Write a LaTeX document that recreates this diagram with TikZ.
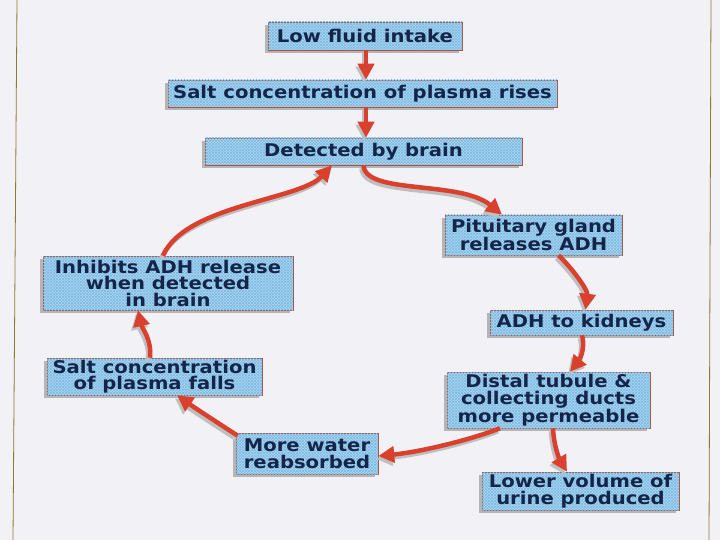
\documentclass[tikz,border=0pt]{standalone}
\usepackage{fontspec}
\setmainfont{DejaVu Sans}[FakeStretch=1.12]
\usetikzlibrary{arrows.meta,calc,shadows,patterns}
\definecolor{bg}{HTML}{F2F1F6}
\definecolor{boxblue}{HTML}{ACD7F0}
\definecolor{hatch}{HTML}{7FBBE3}
\definecolor{boxline}{HTML}{B0503F}
\definecolor{navy}{HTML}{15254A}
\definecolor{arrowred}{HTML}{D9412E}
\definecolor{pageedge}{HTML}{8C7A2E}
\tikzset{
  box/.style={draw=boxline, line width=0.6pt, fill=boxblue, inner sep=0pt,
    text=navy, align=center,
    font=\bfseries\fontsize{17.5}{16.5}\selectfont,
    drop shadow={shadow xshift=-3pt, shadow yshift=-3pt, fill=black!35, opacity=0.8},
    postaction={pattern=north east lines, pattern color=hatch},
    postaction={pattern=north west lines, pattern color=hatch}},
  flow/.style={draw=arrowred, line width=4.5pt,
    -{Triangle[length=16pt,width=16pt]},
    preaction={draw=black!25, line width=4.5pt, transform canvas={shift={(-2pt,-3pt)}}}}
}
\begin{document}
\begin{tikzpicture}[x=1pt,y=-1pt]
\fill[bg] (0,0) rectangle (720,540);
\useasboundingbox (0,0) rectangle (720,540);
\draw[pageedge, line width=0.8pt] (17,0) -- (13,540);
\draw[pageedge, line width=0.8pt] (711,0) -- (709,540);

\node[box, minimum width=194, minimum height=28] (n1) at (365,36) {Low fluid intake};
\node[box, minimum width=389, minimum height=27] (n2) at (362.5,93.5) {Salt concentration of plasma rises};
\node[box, minimum width=317, minimum height=27] (n3) at (363.5,151.5) {Detected by brain};
\node[box, minimum width=177, minimum height=40] (n4) at (533.5,235) {Pituitary gland\\releases ADH};
\node[box, minimum width=250, minimum height=54] (n5) at (168,283) {Inhibits ADH release\\when detected\\in brain};
\node[box, minimum width=183, minimum height=25] (n6) at (581.5,322.5) {ADH to kidneys};
\node[box, minimum width=215, minimum height=37] (n7) at (154.5,376.5) {Salt concentration\\of plasma falls};
\node[box, minimum width=203, minimum height=56] (n8) at (548.5,400) {Distal tubule \&\\collecting ducts\\more permeable};
\node[box, minimum width=142, minimum height=41] (n9) at (307,453.5) {More water\\reabsorbed};
\node[box, minimum width=197, minimum height=38] (n10) at (580.5,491) {Lower volume of\\urine produced};

\draw[flow] ($(n1.south)+(1,0)$) -- ($(n2.north)+(3.5,0)$);
\draw[flow] ($(n2.south)+(3.5,0)$) -- ($(n3.north)+(2.5,0)$);
\draw[flow] (n3.south) .. controls (365,195) and (460,180) .. ($(n4.north)+(-31.5,0)$);
\draw[flow] ($(n4.south)+(25,0)$) .. controls (572,268) and (588,290) .. ($(n6.north)+(4,0)$);
\draw[flow] ($(n6.south)+(0.5,0)$) .. controls (586,350) and (578,362) .. ($(n8.north)+(21.5,0)$);
\draw[flow] ($(n8.south)+(4.5,0)$) .. controls (554,448) and (560,460) .. ($(n10.north)+(-13.5,0)$);
\draw[flow] ($(n8.south)+(-48.5,0)$) .. controls (470,440) and (420,452) .. ($(n9.east)+(0,2.5)$);
\draw[flow] ($(n9.north west)+(2,3)$) .. controls (218,423) and (195,408) .. ($(n7.south)+(22.5,0)$);
\draw[flow] ($(n7.north)+(-4.5,0)$) .. controls (152,340) and (142,328) .. ($(n5.south)+(-30,0)$);
\draw[flow] ($(n5.north)+(-5,0)$) .. controls (185,205) and (300,200) .. ($(n3.south)+(-31.5,0)$);
\end{tikzpicture}
\end{document}
